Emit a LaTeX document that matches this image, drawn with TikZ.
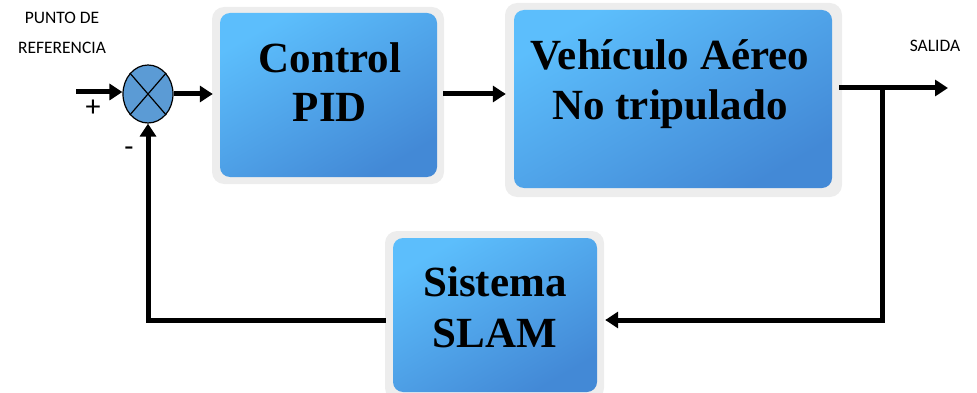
\documentclass[tikz,border=0pt]{standalone}
\usepackage{fontspec}
\setmainfont{Liberation Serif}
\newfontfamily\lblfont{Carlito}
\usetikzlibrary{arrows.meta,shapes.geometric,calc}
\definecolor{boxtop}{HTML}{5CBEFC}
\definecolor{boxbot}{HTML}{4389D6}
\definecolor{halo}{HTML}{EDEDED}
\definecolor{sumfill}{HTML}{5B9BD5}
\tikzset{
  blockbox/.style={rounded corners=10pt, top color=boxtop, bottom color=boxbot, shading angle=30, draw=none, inner sep=0pt},
  boxtext/.style={font=\bfseries\fontsize{43}{50}\selectfont, inner sep=0pt, anchor=base},
  sig/.style={line width=5pt, -{Triangle[length=13pt,width=16pt]}},
  wire/.style={line width=5pt},
  lbl/.style={font=\lblfont\fontsize{17.5}{20}\selectfont, inner sep=0pt}
}
\begin{document}
\begin{tikzpicture}[x=1pt,y=-1pt]
\useasboundingbox (0,0) rectangle (977,393);
% halos
\fill[halo, rounded corners=12pt] (212,7) rectangle (444,184);
\fill[halo, rounded corners=12pt] (505,3) rectangle (842,197);
\fill[halo, rounded corners=12pt] (385,231) rectangle (604,400);
% blocks
\node[blockbox, minimum width=217pt, minimum height=164pt] (pid) at (328.5,95) {};
\node[blockbox, minimum width=318pt, minimum height=178pt] (uav) at (673,99) {};
\node[blockbox, minimum width=204pt, minimum height=154pt] (slam) at (495,315) {};
\node[boxtext] (pid1) at (330,73) {Control};
\node[boxtext] (pid2) at (330,122) {PID};
\node[boxtext] (uav1) at (670,70) {Vehículo Aéreo};
\node[boxtext] (uav2) at (670,120) {No tripulado};
\node[boxtext] (slam1) at (495,296) {Sistema};
\node[boxtext] (slam2) at (495,347) {SLAM};
% summing junction
\node[ellipse, draw=black, line width=1.2pt, fill=sumfill, minimum width=50pt, minimum height=58pt, inner sep=0pt] (sum) at (148,94) {};
\draw[line width=1.2pt] (sum.north west) -- (sum.south east);
\draw[line width=1.2pt] (sum.north east) -- (sum.south west);
% labels
\node[lbl] (ref1) at (62,18) {PUNTO DE};
\node[lbl] (ref2) at (62,48) {REFERENCIA};
\node[lbl] (out) at (935,46) {SALIDA};
\node[font=\lblfont\fontsize{30}{30}\selectfont, inner sep=0pt] (plus) at (93,108) {+};
\node[font=\lblfont\fontsize{30}{30}\selectfont, inner sep=0pt] (minus) at (129,152) {-};
% coordinates
\coordinate (in) at (76,92);
\coordinate (branch) at (882,88);
\coordinate (outend) at (948,88);
\coordinate (fbr) at (882,320);
\coordinate (fbl) at (148,320);
% connectors
\draw[sig] (in) -- (sum.west |- in);
\draw[sig] (sum.east) -- ($(pid.west |- sum.east)+(-7,0)$);
\draw[sig] ($(pid.east |- sum.east)+(6,0)$) -- ($(uav.west |- sum.east)+(-8,0)$);
\draw[sig] ($(uav.east |- outend)+(7,0)$) -- (outend);
\draw[wire] ($(branch)+(0,-2.5)$) -- ($(fbr)+(0,2.5)$);
\draw[sig] ($(fbr)+(2.5,0)$) -- ($(slam.east |- fbr)+(8,0)$);
\draw[wire] ($(slam.west |- fbl)+(-7,0)$) -- ($(fbl)+(-2.5,0)$);
\draw[sig] (fbl) -- (sum.south);
\end{tikzpicture}
\end{document}
